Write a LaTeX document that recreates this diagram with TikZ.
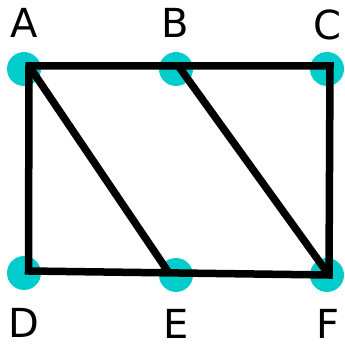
\documentclass[tikz,border=0pt]{standalone}
\usepackage{fontspec}
\setmainfont{DejaVu Sans}
\definecolor{dotcol}{RGB}{0,204,204}
\begin{document}
\begin{tikzpicture}[x=1pt,y=-1pt,
  dot/.style={circle,fill=dotcol,minimum size=34pt,inner sep=0pt},
  lab/.style={font=\fontsize{40}{40}\selectfont,inner sep=0pt},
  edge/.style={line width=7.5pt,black,line join=miter,line cap=rect}]
\useasboundingbox (0,0) rectangle (345,344);
% circles
\node[dot] (A) at (24,69) {};
\node[dot] (B) at (176,69) {};
\node[dot] (C) at (327,69) {};
\node[dot] (D) at (24,273) {};
\node[dot] (E) at (176,275) {};
\node[dot] (F) at (327,275) {};
% labels
\node[lab] (lA) at (24,23) {A};
\node[lab] (lB) at (175,23) {B};
\node[lab] (lC) at (327,25) {C};
\node[lab] (lD) at (24,323) {D};
\node[lab] (lE) at (176,324) {E};
\node[lab] (lF) at (328,324) {F};
% line vertices
\coordinate (a) at (29,66);
\coordinate (b) at (178,65.5);
\coordinate (c) at (330,66);
\coordinate (d) at (28.5,271);
\coordinate (e) at (169,273);
\coordinate (f) at (329,275);
\draw[edge] (a) -- (c) -- (f) -- (d) -- cycle;
\draw[edge,line cap=butt] (a) -- (e);
\draw[edge,line cap=butt] (b) -- (f);
\end{tikzpicture}
\end{document}
